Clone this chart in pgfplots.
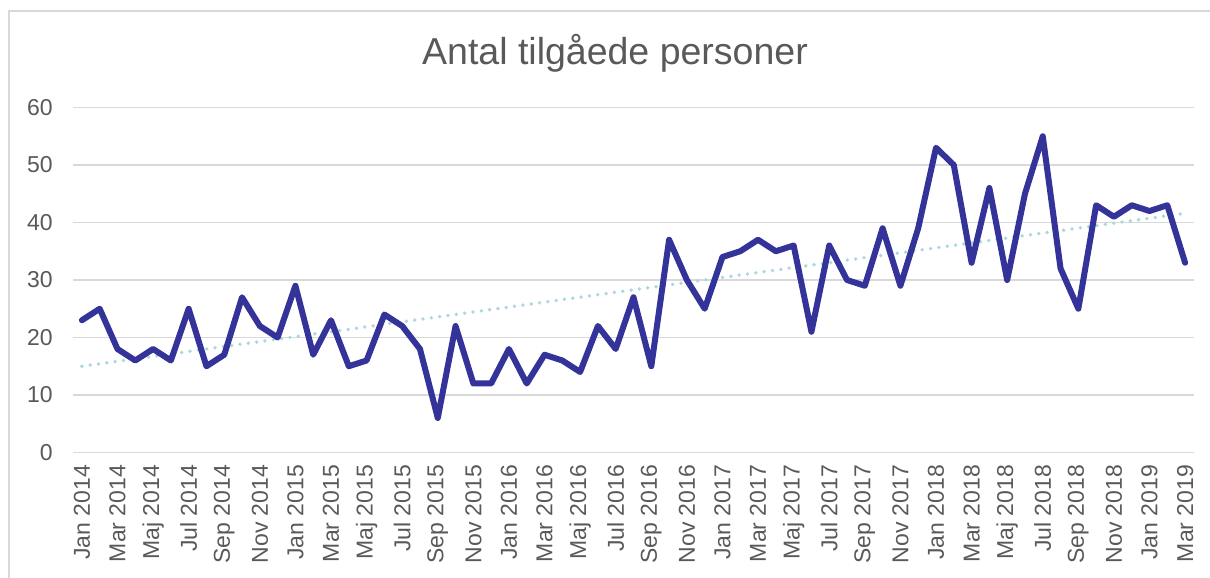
\documentclass[border=0pt]{standalone}
\usepackage{pgfplots}
\pgfplotsset{compat=1.18}
\usepackage{fontspec}
\setmainfont{Liberation Sans}
\definecolor{txtgray}{HTML}{595959}
\definecolor{gridgray}{HTML}{D9D9D9}
\definecolor{linecol}{HTML}{333399}
\definecolor{trendcol}{HTML}{A9D8DE}
\begin{document}
\begin{tikzpicture}
\path[use as bounding box] (0,0) rectangle (605pt,289pt);
\draw[gridgray, line width=0.75pt] (4.5pt,0) -- (4.5pt,283.5pt) -- (605pt,283.5pt);
\node[anchor=base, text=txtgray, font=\fontsize{18.75}{22}\selectfont, inner sep=0pt] at (307.5pt,256.5pt) {Antal tilgåede personer};
\begin{axis}[
  at={(36.5pt,62.75pt)}, anchor=south west,
  scale only axis, width=560.5pt, height=172.5pt,
  xmin=-0.5, xmax=62.5, ymin=0, ymax=60,
  ytick={0,10,...,60},
  xtick={0,2,...,62},
  xticklabels={Jan 2014,Mar 2014,Maj 2014,Jul 2014,Sep 2014,Nov 2014,
    Jan 2015,Mar 2015,Maj 2015,Jul 2015,Sep 2015,Nov 2015,
    Jan 2016,Mar 2016,Maj 2016,Jul 2016,Sep 2016,Nov 2016,
    Jan 2017,Mar 2017,Maj 2017,Jul 2017,Sep 2017,Nov 2017,
    Jan 2018,Mar 2018,Maj 2018,Jul 2018,Sep 2018,Nov 2018,
    Jan 2019,Mar 2019},
  axis line style={draw=none},
  major tick length=0pt,
  ymajorgrids, major grid style={gridgray, line width=0.9pt},
  /pgf/number format/assume math mode=true,
  tick label style={text=txtgray, font=\fontsize{11.5}{13.8}\selectfont},
  yticklabel style={anchor=east, inner sep=0pt, xshift=-10pt},
  xticklabel style={rotate=90, anchor=east, inner ysep=0pt, inner xsep=0pt, xshift=0pt},
  xticklabel shift=6pt,
  clip=false,
]
\addplot[trendcol, line width=1.9pt, line cap=round, dash pattern=on 0pt off 4.2pt] coordinates {(0,15.0) (62,41.6)};
\addplot[linecol, line width=3pt, line join=round, line cap=round] coordinates {
(0,23) (1,25) (2,18) (3,16) (4,18) (5,16) (6,25) (7,15) (8,17) (9,27) (10,22) (11,20)
(12,29) (13,17) (14,23) (15,15) (16,16) (17,24) (18,22) (19,18) (20,6) (21,22) (22,12) (23,12)
(24,18) (25,12) (26,17) (27,16) (28,14) (29,22) (30,18) (31,27) (32,15) (33,37) (34,30) (35,25)
(36,34) (37,35) (38,37) (39,35) (40,36) (41,21) (42,36) (43,30) (44,29) (45,39) (46,29) (47,39)
(48,53) (49,50) (50,33) (51,46) (52,30) (53,45) (54,55) (55,32) (56,25) (57,43) (58,41) (59,43)
(60,42) (61,43) (62,33)
};
\end{axis}
\end{tikzpicture}
\end{document}
